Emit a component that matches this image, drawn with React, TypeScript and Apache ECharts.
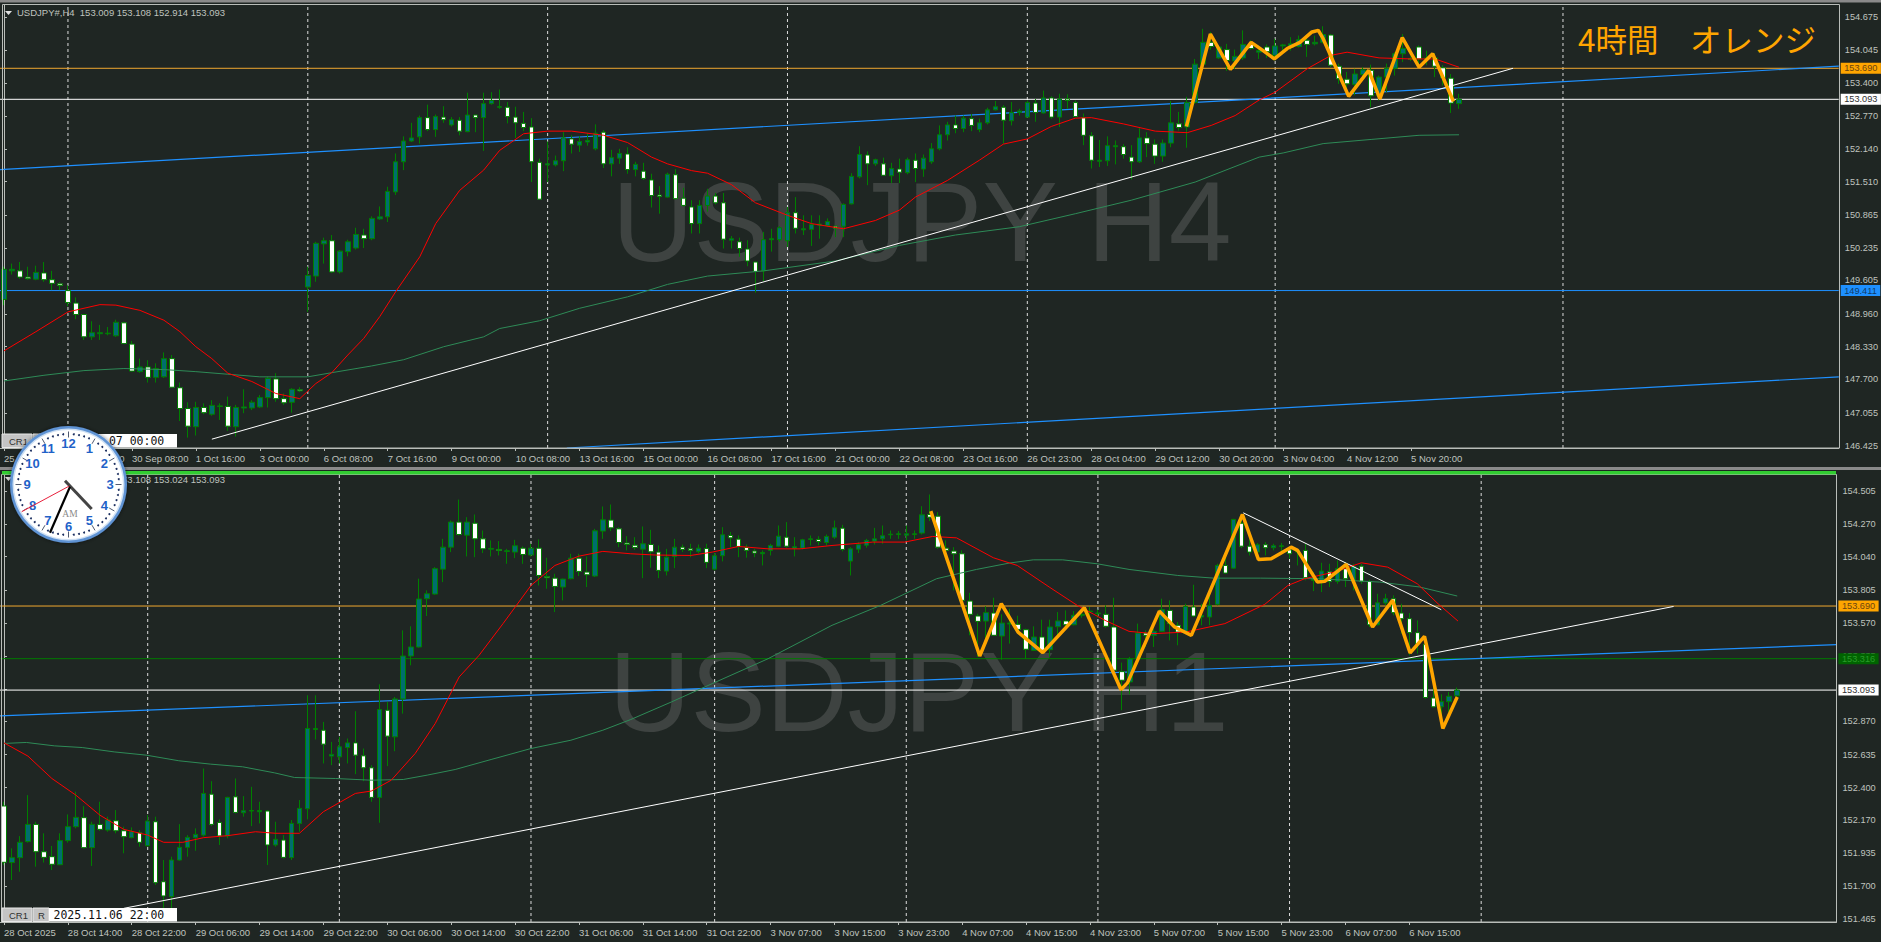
import React, { useEffect, useRef } from "react";
import * as echarts from "echarts";

const BARS = 230;

// [open, close, low, high]
const h4Candles = [
[149.24,149.82,149.13,149.87],[149.79,149.82,149.72,149.93],[149.79,149.67,149.64,149.96],[149.67,149.64,149.62,149.87],[149.63,149.76,149.61,149.89],[149.75,149.62,149.58,149.96],[149.62,149.55,149.42,149.79],[149.54,149.51,149.42,149.57],[149.41,149.18,149.11,149.51],[149.17,148.95,148.86,149.28],
[148.95,148.52,148.46,148.95],[148.52,148.60,148.46,148.82],[148.58,148.60,148.46,148.75],[148.58,148.59,148.55,148.71],[148.54,148.80,148.52,148.85],[148.79,148.39,148.39,148.81],[148.38,147.86,147.85,148.44],[147.85,147.94,147.83,148.10],[147.94,147.74,147.64,148.07],[147.74,147.91,147.64,148.01],
[147.75,148.10,147.73,148.22],[148.10,147.55,147.55,148.17],[147.54,147.14,146.90,147.64],[147.14,146.80,146.58,147.26],[146.79,147.16,146.62,147.27],[147.16,147.06,147.03,147.24],[147.03,147.20,147.00,147.30],[147.18,147.19,146.92,147.24],[147.18,146.80,146.71,147.37],[146.79,147.16,146.60,147.21],
[147.15,147.17,147.05,147.51],[147.15,147.26,147.11,147.30],[147.17,147.35,147.15,147.40],[147.35,147.72,147.16,147.75],[147.71,147.33,147.27,147.82],[147.33,147.25,147.21,147.43],[147.26,147.51,147.06,147.53],[147.50,147.48,147.46,147.55],[149.48,149.70,149.00,149.87],[149.69,150.32,149.58,150.35],
[150.31,150.37,149.93,150.43],[150.37,149.77,149.75,150.48],[149.77,150.17,149.74,150.19],[150.16,150.35,150.07,150.39],[150.23,150.49,150.20,150.62],[150.48,150.41,150.23,150.60],[150.41,150.80,150.38,150.84],[150.79,150.83,150.77,151.03],[150.83,151.32,150.73,151.41],[151.31,151.89,151.25,152.05],
[151.89,152.29,151.73,152.38],[152.29,152.35,152.27,152.64],[152.37,152.74,152.24,152.78],[152.74,152.51,152.48,152.99],[152.51,152.76,152.37,152.80],[152.75,152.70,152.64,152.96],[152.60,152.70,152.57,152.75],[152.69,152.48,152.40,152.75],[152.47,152.79,152.46,153.22],[152.79,152.74,152.46,152.79],
[152.74,153.01,152.10,153.22],[153.01,153.07,152.99,153.23],[152.94,152.95,152.91,153.28],[152.94,152.76,152.63,153.04],[152.75,152.64,152.35,152.95],[152.63,152.55,152.48,152.85],[152.56,151.89,151.50,152.73],[151.88,151.17,151.17,151.95],[151.83,151.85,151.50,152.28],[151.83,151.91,151.80,152.01],
[151.91,152.35,151.71,152.46],[152.33,152.23,152.05,152.40],[152.21,152.28,152.08,152.38],[152.27,152.30,152.20,152.44],[152.14,152.44,152.11,152.61],[152.46,151.85,151.77,152.50],[151.85,151.97,151.61,152.12],[151.96,152.05,151.85,152.14],[152.04,151.74,151.66,152.17],[151.74,151.84,151.61,151.89],
[151.71,151.57,151.54,151.87],[151.54,151.24,151.01,151.66],[151.25,151.22,150.89,151.42],[151.21,151.65,151.20,151.68],[151.64,151.18,151.17,151.75],[151.19,151.05,151.03,151.39],[151.02,150.70,150.51,151.15],[150.70,151.05,150.51,151.15],[151.05,151.23,150.93,151.37],[151.23,151.10,151.07,151.29],
[151.10,150.40,150.22,151.29],[150.38,150.41,150.22,150.46],[150.35,150.22,150.06,150.43],[150.21,149.98,149.88,150.38],[149.96,149.78,149.37,149.96],[149.79,150.39,149.59,150.54],[150.39,150.41,150.16,150.60],[150.39,150.62,150.35,150.65],[150.37,150.91,150.25,151.02],[150.91,150.61,150.51,151.21],
[150.58,150.60,150.48,150.86],[150.59,150.68,150.27,150.86],[150.67,150.69,150.41,150.86],[150.66,150.74,150.64,150.80],[150.65,150.61,150.44,150.66],[150.65,151.07,150.44,151.09],[151.08,151.61,151.07,151.67],[151.60,152.03,151.57,152.19],[152.02,151.85,151.44,152.09],[151.85,151.93,151.81,151.95],
[151.85,151.63,151.62,151.97],[151.62,151.76,151.48,151.87],[151.75,151.69,151.48,151.95],[151.68,151.93,151.65,151.97],[151.92,151.76,151.50,152.05],[151.75,151.96,151.60,152.03],[151.89,152.14,151.85,152.25],[152.14,152.41,152.11,152.59],[152.41,152.60,152.30,152.66],[152.60,152.53,152.44,152.78],
[152.53,152.73,152.46,152.78],[152.72,152.59,152.48,152.81],[152.51,152.64,152.46,152.72],[152.64,152.89,152.61,152.93],[152.89,152.95,152.88,153.06],[152.94,152.69,152.24,152.98],[152.68,152.84,152.59,153.04],[152.84,152.87,152.78,152.91],[152.75,153.03,152.74,153.07],[153.02,152.84,152.66,153.10],
[152.83,153.12,152.82,153.26],[153.12,152.75,152.72,153.15],[152.75,153.10,152.56,153.20],[153.10,153.07,152.91,153.19],[153.03,152.76,152.75,153.07],[152.74,152.40,152.21,152.82],[152.39,151.92,151.76,152.46],[151.90,151.92,151.79,152.31],[151.91,152.20,151.81,152.38],[152.18,152.20,151.84,152.30],
[152.18,152.03,151.95,152.23],[151.98,151.89,151.55,152.21],[151.89,152.35,151.87,152.54],[152.35,152.24,151.98,152.46],[152.23,152.00,151.85,152.32],[152.00,152.25,151.89,152.32],[152.25,152.64,152.17,153.06],[152.62,152.55,152.49,152.85],[152.56,153.03,152.16,153.14],[153.03,153.77,153.01,153.87],
[153.77,154.19,153.76,154.45],[154.19,154.11,154.05,154.39],[153.89,154.10,153.87,154.13],[154.05,153.84,153.64,154.16],[153.83,153.92,153.68,154.05],[153.89,154.15,153.85,154.42],[154.15,154.07,154.05,154.23],[154.00,154.03,153.87,154.13],[154.10,154.01,153.89,154.15],[153.94,154.12,153.84,154.26],
[154.12,154.14,154.00,154.16],[154.09,154.16,154.03,154.29],[154.11,154.24,154.09,154.32],[154.23,154.15,153.91,154.29],[154.16,154.19,154.13,154.32],[154.19,154.34,154.17,154.50],[154.33,153.75,153.71,154.35],[153.73,153.49,153.39,153.78],[153.48,153.39,153.23,153.62],[153.38,153.58,153.17,153.68],
[153.57,153.66,153.52,153.71],[153.65,153.16,152.94,153.76],[153.16,153.52,153.07,153.55],[153.52,153.69,153.23,153.78],[153.69,153.97,153.55,154.00],[153.97,154.07,153.81,154.35],[153.88,153.86,153.83,153.92],[154.10,153.87,153.71,154.13],[153.87,153.89,153.75,154.03],[153.89,153.73,153.52,153.98],
[153.70,153.51,153.36,153.75],[153.50,153.02,152.83,153.58],[153.01,153.093,152.91,153.20],
];

const h1Candles = [
[152.27,151.87,151.85,152.30],[151.868,151.903,151.744,151.969],[151.903,152.012,151.803,152.056],[152.017,152.139,152.010,152.347],[152.139,151.945,151.839,152.158],[151.945,151.905,151.868,152.076],[151.910,151.856,151.815,151.986],[151.853,152.024,151.851,152.076],[152.024,152.123,152.010,152.210],[152.123,152.189,152.111,152.371],
[152.187,151.974,151.969,152.269],[151.974,152.139,151.844,152.158],[152.139,152.104,152.094,152.300],[152.099,152.170,152.087,152.194],[152.165,152.094,152.076,152.241],[152.094,152.052,151.934,152.123],[152.045,152.087,152.040,152.118],[152.080,152.012,151.981,152.099],[151.988,152.163,151.981,152.205],[152.158,151.725,151.709,152.194],
[151.732,151.631,151.543,151.886],[151.626,151.886,151.543,151.910],[151.886,151.976,151.882,152.141],[151.976,152.047,151.910,152.063],[152.045,152.068,151.952,152.111],[152.063,152.359,152.052,152.536],[152.354,152.139,152.127,152.446],[152.153,152.057,151.993,152.175],[152.057,152.331,152.040,152.335],[152.335,152.224,152.217,152.465],
[152.222,152.236,152.194,152.340],[152.234,152.238,152.127,152.406],[152.229,152.238,152.146,152.300],[152.234,151.993,151.851,152.241],[151.993,152.033,151.981,152.158],[152.028,151.905,151.898,152.063],[151.903,152.146,151.886,152.170],[152.146,152.253,152.087,152.312],[152.250,152.820,152.175,153.056],[152.813,152.820,152.742,153.056],
[152.808,152.709,152.572,152.867],[152.624,152.636,152.560,152.725],[152.619,152.690,152.572,152.761],[152.685,152.718,152.572,152.749],[152.718,152.631,152.496,152.943],[152.626,152.541,152.446,152.678],[152.541,152.331,152.300,152.560],[152.331,152.955,152.151,153.134],[152.950,152.766,152.553,153.009],[152.761,153.030,152.659,153.044],
[153.030,153.335,152.926,153.517],[153.335,153.399,153.269,153.546],[153.399,153.740,153.394,153.884],[153.742,153.777,153.619,153.801],[153.775,153.955,153.770,153.966],[153.952,154.108,153.860,154.167],[154.108,154.286,154.073,154.297],[154.286,154.198,154.191,154.446],[154.193,154.286,154.042,154.321],[154.278,154.167,154.037,154.340],
[154.167,154.096,154.066,154.226],[154.094,154.099,154.042,154.156],[154.092,154.085,154.049,154.151],[154.078,154.082,153.990,154.096],[154.073,154.118,154.030,154.160],[154.101,154.056,153.990,154.113],[154.052,154.101,154.042,154.132],[154.101,153.907,153.836,154.163],[153.900,153.891,153.813,154.033],[153.888,153.829,153.647,153.919],
[153.825,153.881,153.730,153.884],[153.884,154.030,153.879,154.061],[154.030,153.936,153.903,154.061],[153.931,153.912,153.825,154.042],[153.903,154.224,153.896,154.238],[154.222,154.302,154.167,154.397],[154.300,154.245,154.222,154.411],[154.238,154.141,154.108,154.250],[154.137,154.127,154.085,154.186],[154.122,154.106,154.089,154.179],
[154.094,154.132,153.888,154.255],[154.127,154.075,153.962,154.231],[154.073,153.943,153.888,154.120],[153.938,154.037,153.907,154.096],[154.042,154.108,153.959,154.167],[154.108,154.092,154.073,154.127],[154.096,154.085,154.037,154.132],[154.078,154.101,154.066,154.127],[154.099,154.000,153.959,154.132],[153.952,154.047,153.943,154.066],
[154.047,154.196,154.007,154.250],[154.191,154.174,154.108,154.215],[154.165,154.113,154.037,154.191],[154.106,154.085,154.033,154.127],[154.080,154.066,154.037,154.096],[154.061,154.070,153.978,154.085],[154.085,154.120,154.049,154.132],[154.115,154.186,154.108,154.262],[154.179,154.115,154.104,154.286],[154.101,154.111,154.042,154.179],
[154.101,154.160,154.092,154.167],[154.163,154.167,154.120,154.191],[154.163,154.148,154.122,154.186],[154.141,154.184,154.120,154.198],[154.179,154.245,154.167,154.297],[154.243,154.092,154.078,154.267],[154.009,154.096,153.907,154.108],[154.094,154.125,154.066,154.144],[154.122,154.156,154.104,154.167],[154.151,154.167,154.127,154.245],
[154.167,154.189,154.132,154.262],[154.196,154.200,154.167,154.226],[154.198,154.203,154.167,154.222],[154.193,154.203,154.156,154.262],[154.198,154.203,154.167,154.226],[154.208,154.338,154.198,154.399],[154.340,154.321,154.293,154.482],[154.328,154.108,154.096,154.357],[154.101,154.085,154.061,154.156],[154.080,154.061,153.801,154.108],
[154.061,153.730,153.683,154.085],[153.725,153.631,153.482,153.784],[153.619,153.581,153.328,153.635],[153.583,153.643,153.423,153.688],[153.640,153.482,153.477,153.749],[153.477,153.569,153.309,153.631],[153.562,153.569,153.423,153.671],[153.560,153.524,153.494,153.621],[153.522,153.383,153.316,153.529],[153.375,153.470,153.371,153.546],
[153.470,153.375,153.352,153.593],[153.380,153.541,153.328,153.593],[153.543,153.584,153.482,153.647],[153.584,153.557,153.541,153.659],[153.557,153.624,153.553,153.654],[153.624,153.631,153.607,153.671],[153.650,153.654,153.624,153.683],[153.636,153.640,153.607,153.664],[153.631,153.546,153.536,153.695],[153.541,153.234,153.222,153.749],
[153.224,153.163,152.950,153.288],[153.151,153.314,153.063,153.328],[153.316,153.498,153.311,153.565],[153.498,153.482,153.399,153.517],[153.482,153.510,153.399,153.529],[153.510,153.664,153.505,153.742],[153.659,153.565,153.446,153.730],[153.553,153.505,153.411,153.576],[153.505,153.687,153.494,153.706],[153.683,153.619,153.612,153.841],
[153.612,153.624,153.553,153.706],[153.612,153.695,153.553,153.777],[153.702,153.978,153.695,153.990],[153.978,153.924,153.919,154.033],[153.959,154.305,153.955,154.309],[154.278,154.115,154.101,154.333],[154.115,154.073,154.049,154.167],[154.073,154.125,154.026,154.137],[154.125,154.104,154.049,154.144],[154.104,154.118,154.085,154.132],
[154.113,154.118,154.073,154.137],[154.089,154.061,154.026,154.108],[154.073,154.085,153.978,154.085],[154.085,153.891,153.872,154.132],[153.872,153.884,153.796,153.931],[153.860,153.938,153.789,153.997],[153.933,153.865,153.825,153.990],[153.865,153.955,153.848,154.014],[153.955,153.884,153.825,154.002],[153.872,153.971,153.801,153.990],
[153.973,153.865,153.848,153.990],[153.865,153.557,153.541,153.877],[153.557,153.713,153.553,153.777],[153.711,153.742,153.695,153.777],[153.742,153.643,153.624,153.766],[153.640,153.600,153.494,153.706],[153.600,153.501,153.340,153.640],[153.501,153.423,153.352,153.588],[153.418,153.040,153.033,153.446],[153.037,152.974,152.969,153.163],
[152.974,153.011,152.914,153.063],[153.011,153.049,152.938,153.080],[153.052,153.093,153.033,153.111],
];

// moving averages, read at bar positions: [bar, price]
const h4Red = [[0,148.25],[4,148.62],[8,149.00],[12,149.14],[14,149.13],[17,149.03],[20,148.84],[22,148.62],[24,148.33],[26,148.10],[28,147.82],[31,147.66],[34,147.43],[37,147.33],[39,147.62],[41,147.83],[43,148.17],[45,148.49],[47,148.91],[49,149.39],[52,150.06],[54,150.70],[57,151.34],[60,151.73],[62,152.11],[65,152.43],[68,152.48],[71,152.48],[75,152.40],[78,152.26],[81,151.98],[83,151.85],[86,151.72],[88,151.67],[91,151.45],[94,151.10],[98,150.86],[101,150.70],[105,150.60],[109,150.76],[112,150.96],[114,151.21],[118,151.53],[122,151.92],[125,152.23],[128,152.33],[131,152.57],[134,152.73],[136,152.74],[140,152.62],[144,152.48],[148,152.45],[151,152.59],[154,152.78],[157,153.08],[159,153.23],[163,153.68],[166,153.94],[168,154.00],[172,153.89],[176,153.87],[179,153.87],[182,153.71]];
const h4Green = [[0,147.67],[5,147.78],[10,147.87],[15,147.91],[20,147.89],[24,147.85],[28,147.80],[32,147.75],[38,147.75],[41,147.83],[46,147.96],[50,148.08],[55,148.33],[60,148.52],[62,148.68],[67,148.83],[72,149.07],[78,149.29],[83,149.53],[88,149.69],[95,149.79],[104,149.98],[112,150.28],[119,150.48],[127,150.64],[134,150.89],[141,151.15],[149,151.50],[157,151.98],[160,152.06],[165,152.24],[171,152.32],[177,152.40],[182,152.41]];
const h4Orange = [[147.9,152.57],[150.9,154.35],[153.4,153.67],[156,154.19],[157.5,154.03],[158.9,153.87],[160.5,154.07],[162.1,154.19],[163.6,154.39],[164.4,154.42],[165,154.26],[168.2,153.15],[170.7,153.65],[172.1,153.10],[174.9,154.28],[177,153.71],[178.7,153.97],[181.3,153.05]];
const h4Trend = [[26,146.55],[188.75,153.69]];
const h4BlueUpper = [[-0.5,151.74],[229.5,153.73]];
const h4BlueLower = [[70.4,146.38],[229.5,147.75]];

const h1Red = [[0,152.718],[3,152.624],[6,152.465],[9,152.347],[12,152.205],[15,152.104],[18,152.063],[20,152.012],[22.4,152.012],[25,152.045],[28,152.059],[31.5,152.087],[34,152.076],[37,152.076],[40,152.229],[44,152.359],[46,152.376],[48.5,152.453],[51.5,152.643],[54,152.855],[57,153.186],[59.5,153.340],[62.5,153.565],[66,153.836],[69,153.978],[72,154.044],[75,154.078],[78.5,154.061],[81.6,154.052],[86,154.049],[88.7,154.073],[92,154.113],[95.7,154.096],[99.7,154.096],[103.7,154.120],[108.8,154.144],[112.8,154.144],[116.3,154.184],[119.3,154.174],[123.9,154.033],[126.9,153.978],[130.9,153.825],[134.4,153.695],[137.9,153.588],[140.9,153.510],[144,153.494],[148,153.505],[152.9,153.565],[157.9,153.702],[160.8,153.836],[162.9,153.884],[166.6,153.931],[170,153.997],[173.3,153.966],[177,153.848],[179.6,153.706],[182.1,153.583]];
const h1Green = [[0,152.714],[2.8,152.721],[6.3,152.697],[9.8,152.685],[13.8,152.654],[17.8,152.631],[21.9,152.591],[25.9,152.567],[29.9,152.548],[33.9,152.505],[36.4,152.472],[41.5,152.465],[46,152.453],[50,152.458],[53,152.489],[56.5,152.529],[61,152.600],[66,152.678],[71,152.737],[75,152.808],[78.5,152.884],[83.6,153.009],[88.7,153.139],[95.7,153.316],[103.7,153.553],[109.8,153.695],[116.8,153.884],[121.8,153.950],[125.9,153.995],[128.9,154.018],[132.6,154.018],[136.9,153.990],[140.9,153.950],[147,153.907],[151.5,153.888],[157.4,153.888],[164.4,153.884],[172.3,153.860],[177.3,153.825],[182,153.761]];
const h1Orange = [[116.07,154.364],[122.2,153.335],[124.9,153.706],[127,153.505],[130.1,153.359],[135.3,153.678],[139.9,153.096],[140.7,153.144],[144.7,153.654],[146.6,153.541],[148.7,153.482],[155.1,154.340],[157.1,154.021],[158.7,154.026],[161.2,154.108],[162,154.085],[164.5,153.860],[165.4,153.865],[168.1,153.985],[171.4,153.541],[173.9,153.730],[176.1,153.357],[177.9,153.475],[178.3,153.375],[180.2,152.820],[182,153.044]];
const h1TrendUp = [[15,151.543],[209.1,153.687]];
const h1TrendDown = [[155.2,154.352],[180,153.664]];
const h1Blue = [[-0.5,152.910],[229.5,153.416]];

const h4PriceTicks = [146.425,147.055,147.7,148.33,148.96,149.605,150.235,150.865,151.51,152.14,152.77,153.4,154.045,154.675];
const h1PriceTicks = [151.465,151.7,151.935,152.17,152.4,152.635,152.87,153.1,153.335,153.57,153.805,154.04,154.27,154.505];
const h4TimeTicks = ["25 Sep 2025","29 Sep 00:00","30 Sep 08:00","1 Oct 16:00","3 Oct 00:00","6 Oct 08:00","7 Oct 16:00","9 Oct 00:00","10 Oct 08:00","13 Oct 16:00","15 Oct 00:00","16 Oct 08:00","17 Oct 16:00","21 Oct 00:00","22 Oct 08:00","23 Oct 16:00","26 Oct 23:00","28 Oct 04:00","29 Oct 12:00","30 Oct 20:00","3 Nov 04:00","4 Nov 12:00","5 Nov 20:00"];
const h1TimeTicks = ["28 Oct 2025","28 Oct 14:00","28 Oct 22:00","29 Oct 06:00","29 Oct 14:00","29 Oct 22:00","30 Oct 06:00","30 Oct 14:00","30 Oct 22:00","31 Oct 06:00","31 Oct 14:00","31 Oct 22:00","3 Nov 07:00","3 Nov 15:00","3 Nov 23:00","4 Nov 07:00","4 Nov 15:00","4 Nov 23:00","5 Nov 07:00","5 Nov 15:00","5 Nov 23:00","6 Nov 07:00","6 Nov 15:00"];
const h4Separators = [8,38,68,98,128,159,195];
const h1Separators = [18,42,66,89,113,137,161,185];
const h4Levels = [
  { v: 153.69, line: "#f0a830", bg: "#ffa500", fg: "#6b4410" },
  { v: 153.093, line: "#ffffff", bg: "#ffffff", fg: "#303030" },
  { v: 149.411, line: "#1e90ff", bg: "#1e90ff", fg: "#0f3a66" },
];
const h1Levels = [
  { v: 153.69, line: "#f0a830", bg: "#ffa500", fg: "#6b4410" },
  { v: 153.316, line: "#007a00", bg: "#006400", fg: "#2a9a2a" },
  { v: 153.093, line: "#ffffff", bg: "#ffffff", fg: "#303030" },
];

const FONT = '"Liberation Sans",sans-serif';
const AXIS = "#b9bdb9";
const LABEL = "#bfc3bf";

function line(ax: number, data: number[][], color: string, width: number, z: number, extra: any = {}) {
  return {
    type: "line", xAxisIndex: ax * 2 + 1, yAxisIndex: ax, data, symbol: "none", silent: true, z,
    lineStyle: { color, width, ...(extra.dash ? { type: extra.dash } : {}) },
    ...(extra.endLabel ? { endLabel: extra.endLabel } : {}),
    animation: false,
  };
}

function pane(ax: number, candles: number[][], red: number[][], green: number[][], orange: number[][], trends: number[][][], blues: number[][][], levels: any[], seps: number[], yMin: number, yMax: number) {
  const out: any[] = [];
  seps.forEach((s) => out.push(line(ax, [[s, yMin], [s, yMax]], "#dcdcdc", 1, 1, { dash: [3, 3] })));
  levels.forEach((l) =>
    out.push(
      line(ax, [[-0.5, l.v], [229.49, l.v]], l.line, 1, 3, {
        endLabel: {
          show: true, formatter: () => l.v.toFixed(3), backgroundColor: l.bg, color: l.fg,
          fontFamily: FONT, fontSize: 9.2, padding: [1.5, 3.5, 0.5, 3.5], distance: 2,
        },
      })
    )
  );
  blues.forEach((b) => out.push(line(ax, b, "#1e90ff", 1.2, 3)));
  out.push({
    type: "candlestick", xAxisIndex: ax * 2, yAxisIndex: ax, data: candles, barWidth: 5, z: 4, silent: true,
    itemStyle: { color: "#006e6e", color0: "#ffffff", borderColor: "#008000", borderColor0: "#008000", borderWidth: 1 },
  });
  out.push(line(ax, green, "#2e8b57", 1, 5));
  out.push(line(ax, red, "#ff0000", 1, 5));
  trends.forEach((t) => out.push(line(ax, t, "#ffffff", 1, 6)));
  out.push(line(ax, orange, "#ffa500", 3.5, 7));
  return out;
}

function xAxes(gridIndex: number, ticks: string[]) {
  const cats = Array.from({ length: BARS }, (_, i) => String(i));
  const show = (i: number) => i % 8 === 0 && i / 8 < ticks.length;
  return [
    {
      type: "category", gridIndex, data: cats, boundaryGap: true,
      axisLine: { show: true, lineStyle: { color: AXIS, width: 1 } },
      axisTick: { show: true, alignWithLabel: true, length: 3, interval: (i: number) => show(i), lineStyle: { color: AXIS } },
      axisLabel: {
        show: true, interval: (i: number) => show(i), formatter: (_: string, i: number) => ticks[i / 8] ?? "",
        align: "left", margin: 5, color: LABEL, fontFamily: FONT, fontSize: 9.5,
      },
      splitLine: { show: false },
    },
    { type: "value", gridIndex, min: -0.5, max: 229.5, show: false, splitLine: { show: false } },
  ];
}

function yAxis(gridIndex: number, min: number, max: number, ticks: number[]) {
  return {
    type: "value", gridIndex, min, max, position: "right", scale: true,
    axisLine: { show: true, lineStyle: { color: AXIS } },
    axisTick: { show: true, length: 3, customValues: ticks, lineStyle: { color: AXIS } },
    axisLabel: { show: true, customValues: ticks, formatter: (v: number) => v.toFixed(3), margin: 6, color: LABEL, fontFamily: FONT, fontSize: 9.2 },
    splitLine: { show: false },
  };
}

function chrome() {
  const els: any[] = [];
  const text = (x: number, y: number, t: string, font: string, fill: string, z = 60) => ({
    type: "text", x, y, z, silent: true, style: { text: t, font, fill, verticalAlign: "middle", align: "left" },
  });
  const rect = (x: number, y: number, w: number, h: number, fill: string, stroke?: string, z = 60) => ({
    type: "rect", z, silent: true, shape: { x, y, width: w, height: h }, style: { fill, stroke: stroke ?? "none", lineWidth: 1 },
  });
  // window strips
  els.push(rect(0, 0, 1881, 2.5, "#8a8a8a", undefined, 80));
  els.push(rect(0, 467, 1881, 3, "#8a8a8a", undefined, 80));
  els.push(rect(2, 471, 1834, 3.5, "#32cd32", undefined, 61));
  // frames
  els.push(rect(2.5, 4.5, 1837, 443.5, "none", AXIS));
  els.push(rect(1.5, 474.5, 1835, 447.5, "none", AXIS));
  // watermarks
  els.push(text(612, 222, "USDJPY H4", '113px "Liberation Sans"', "#3e4341", 0));
  els.push(text(609, 692, "USDJPY H1", '113px "Liberation Sans"', "#3e4341", 0));
  els.push(text(1578, 38, "4時間　オレンジ", '31.5px "Noto Sans CJK JP"', "#ffa500"));
  // headers
  const head = '9.5px ' + FONT;
  els.push({ type: "polygon", z: 60, silent: true, shape: { points: [[5, 11], [12, 11], [8.5, 15]] }, style: { fill: "#e0e0e0" } });
  els.push(text(17, 12.5, "USDJPY#,H4  153.009 153.108 152.914 153.093", head, LABEL));
  els.push({ type: "polygon", z: 60, silent: true, shape: { points: [[5, 477], [12, 477], [8.5, 481]] }, style: { fill: "#e0e0e0" } });
  els.push(text(17, 479.5, "USDJPY#,H1  153.037 153.108 153.024 153.093", head, LABEL));
  // one-click buttons
  const mono = '11.5px "DejaVu Sans Mono"';
  const btn = '9.5px ' + FONT;
  [[434, "2025.10.07 00:00"], [908, "2025.11.06 22:00"]].forEach(([y, t]: any) => {
    els.push(rect(2, y, 30, 13.5, "#c4c4c4", "#e8e8e8"));
    els.push(text(9, y + 7, "CR1", btn, "#303030"));
    els.push(rect(33, y, 16, 13.5, "#c4c4c4", "#e8e8e8"));
    els.push(text(38, y + 7, "R", btn, "#303030"));
    els.push(rect(49, y, 128, 13.5, "#ffffff"));
    els.push(text(53.5, y + 7, t, mono, "#101010"));
  });
  // analogue clock
  const cx = 68.5, cy = 484.5, Z = 90;
  els.push({ type: "circle", z: Z, silent: true, shape: { cx, cy, r: 58.5 }, style: { fill: "#5f93d4", shadowBlur: 4, shadowColor: "rgba(0,0,0,0.5)" } });
  els.push({ type: "circle", z: Z, silent: true, shape: { cx, cy, r: 56 }, style: { fill: "#cfe0f3" } });
  els.push({ type: "circle", z: Z, silent: true, shape: { cx, cy, r: 54.5 }, style: { fill: "#ffffff" } });
  for (let m = 0; m < 60; m++) {
    const a = (m * Math.PI) / 30;
    const sx = Math.sin(a), cyy = -Math.cos(a);
    if (m % 5 === 0) {
      els.push({ type: "line", z: Z, silent: true, shape: { x1: cx + 47 * sx, y1: cy + 47 * cyy, x2: cx + 53 * sx, y2: cy + 53 * cyy }, style: { stroke: "#505a70", lineWidth: 1 } });
    } else {
      els.push({ type: "circle", z: Z, silent: true, shape: { cx: cx + 50.5 * sx, cy: cy + 50.5 * cyy, r: 1 }, style: { fill: "#1c2f60" } });
    }
  }
  for (let h = 1; h <= 12; h++) {
    const a = (h * Math.PI) / 6;
    els.push({
      type: "text", z: Z, silent: true, x: cx + 41.5 * Math.sin(a), y: cy - 41.5 * Math.cos(a),
      style: { text: String(h), font: 'bold 13px "Liberation Sans"', fill: "#1f62c8", align: "center", verticalAlign: "middle" },
    });
  }
  els.push({ type: "text", z: Z, silent: true, x: 70, y: 514, style: { text: "AM", font: '9.5px "Liberation Serif"', fill: "#8a8a8a", align: "center", verticalAlign: "middle" } });
  els.push({ type: "line", z: Z + 1, silent: true, shape: { x1: 65, y1: 480.7, x2: 91.7, y2: 509 }, style: { stroke: "#444444", lineWidth: 3 } });
  els.push({ type: "line", z: Z + 1, silent: true, shape: { x1: 70, y1: 486.7, x2: 50, y2: 532.7 }, style: { stroke: "#000000", lineWidth: 2.2 } });
  els.push({ type: "line", z: Z + 1, silent: true, shape: { x1: 69.3, y1: 486, x2: 21.7, y2: 511.7 }, style: { stroke: "#e8203c", lineWidth: 1 } });
  return els;
}

export default function App() {
  const ref = useRef<HTMLDivElement>(null);
  useEffect(() => {
    document.body.style.margin = "0";
    document.body.style.background = "#1f2623";
    const chart = echarts.init(ref.current!, undefined, { renderer: "svg" });
    const t = { min: 146.38, max: 154.918 };
    const b = { min: 151.446, max: 154.624 };
    chart.setOption({
      animation: false,
      backgroundColor: "#1f2623",
      tooltip: { show: false },
      grid: [
        { left: -0.5, top: 4.5, width: 1840, height: 443.5 },
        { left: -2, top: 474.5, width: 1838.5, height: 447.5 },
      ],
      xAxis: [...xAxes(0, h4TimeTicks), ...xAxes(1, h1TimeTicks)],
      yAxis: [yAxis(0, t.min, t.max, h4PriceTicks), yAxis(1, b.min, b.max, h1PriceTicks)],
      graphic: { elements: chrome() },
      series: [
        ...pane(0, h4Candles, h4Red, h4Green, h4Orange, [h4Trend], [h4BlueUpper, h4BlueLower], h4Levels, h4Separators, t.min, t.max),
        ...pane(1, h1Candles, h1Red, h1Green, h1Orange, [h1TrendUp, h1TrendDown], [h1Blue], h1Levels, h1Separators, b.min, b.max),
      ],
    });
    return () => chart.dispose();
  }, []);
  return <div ref={ref} style={{ width: 1881, height: 942 }} />;
}
